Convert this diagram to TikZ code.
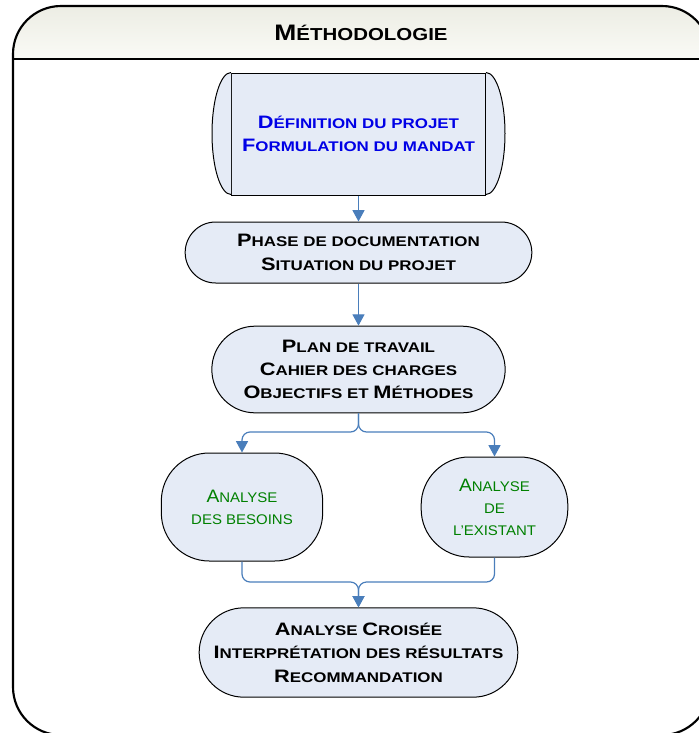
\documentclass[tikz,border=0pt]{standalone}
\usepackage{fontspec}
\setmainfont{Liberation Sans}
\newfontfamily\breit{Liberation Sans}[FakeStretch=1.21]
\newfontfamily\titelfont{Liberation Sans}[FakeStretch=1.18]
\newfontfamily\gruenfont{Liberation Sans}[FakeStretch=1.07]
\usetikzlibrary{shapes.misc,arrows.meta}
\definecolor{boxfill}{RGB}{229,235,246}
\definecolor{pfeilblau}{RGB}{74,126,187}
\definecolor{titelblau}{RGB}{0,0,230}
\definecolor{gruen}{RGB}{0,128,0}
\newcommand{\Ini}[1]{{\fontsize{13.5}{16}\selectfont #1}}
\begin{document}
\begin{tikzpicture}[x=0.75pt,y=-0.75pt,line width=0.75pt,
      pfeil/.style={draw=pfeilblau, line width=0.9pt, rounded corners=6pt,
        -{Triangle[width=9pt,length=8.5pt]}},
      box/.style={draw, fill=boxfill, align=center, inner sep=0pt,
        font=\breit\bfseries\fontsize{10.5}{17.5}\selectfont},
      stadium/.style={box, rounded rectangle},
      oval/.style={draw, fill=boxfill, rounded corners=36pt, align=center,
        inner sep=0pt, text=gruen, font=\gruenfont\fontsize{10.5}{16.5}\selectfont}]
    \useasboundingbox (0,0) rectangle (699,733);
    \clip (0,0) rectangle (699,733);
    % frame with header
    \begin{scope}
      \clip[rounded corners=36pt] (13,6) rectangle (710,735);
      \shade[top color={rgb,255:red,236;green,237;blue,228}, bottom color={rgb,255:red,250;green,250;blue,246}]
        (13,6) rectangle (710,59);
    \end{scope}
    \draw[line width=1.6pt, rounded corners=36pt] (13,6) rectangle (710,735);
    \draw[line width=1.6pt] (13,59) -- (710,59);
    \node[font=\titelfont\bfseries\fontsize{13}{16}\selectfont] at (361,33) (T)
      {{\fontsize{16.8}{18}\selectfont M}ÉTHODOLOGIE};
    % boxes
    \node[box, minimum width=190.5pt, minimum height=91.5pt, text=titelblau]
      at (358.5,134) (A0) {\Ini{D}ÉFINITION DU PROJET\\ \Ini{F}ORMULATION DU MANDAT};
    \draw[fill=boxfill] (A0.north west) arc[start angle=90, end angle=270,
      x radius=14.25pt, y radius=45.75pt];
    \draw[fill=boxfill] (A0.north east) arc[start angle=90, end angle=-90,
      x radius=14.25pt, y radius=45.75pt];
    \node[stadium, minimum width=260pt, minimum height=45.75pt] at (358.5,252.5) (A1)
      {\Ini{P}HASE DE DOCUMENTATION\\ \Ini{S}ITUATION DU PROJET};
    \node[stadium, minimum width=220pt, minimum height=65pt] at (358.5,369.5) (A2)
      {\Ini{P}LAN DE TRAVAIL\\ \Ini{C}AHIER DES CHARGES\\ \Ini{O}BJECTIFS ET \Ini{M}ÉTHODES};
    \node[oval, minimum width=121pt, minimum height=81pt] at (242,507) (A3)
      {\Ini{A}NALYSE\\ DES BESOINS};
    \node[oval, minimum width=110pt, minimum height=75pt] at (494.5,507) (A4)
      {\Ini{A}NALYSE\\ DE\\ L’EXISTANT};
    \node[stadium, minimum width=239pt, minimum height=67pt] at (358.5,652.5) (A5)
      {\Ini{A}NALYSE \Ini{C}ROISÉE\\ \Ini{I}NTERPRÉTATION DES RÉSULTATS\\ \Ini{R}ECOMMANDATION};
    % connectors
    \coordinate (split) at (358.5,432);
    \coordinate (merge) at (358.5,582);
    \draw[pfeil] (A0.south) -- (A1.north);
    \draw[pfeil] (A1.south) -- (A2.north);
    \draw[pfeil] (A2.south) -- (split) -| (A3.north);
    \draw[pfeil] (A2.south) -- (split) -| (A4.north);
    \draw[pfeil] (A3.south) |- (merge) -- (A5.north);
    \draw[pfeil] (A4.south) |- (merge) -- (A5.north);
\end{tikzpicture}
\end{document}
